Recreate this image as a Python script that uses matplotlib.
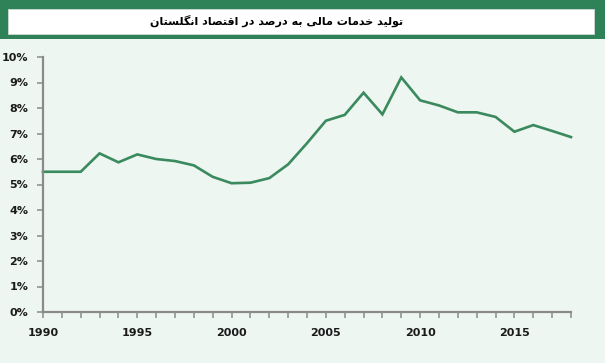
import matplotlib
matplotlib.use("Agg")
import matplotlib.pyplot as plt
import matplotlib.patheffects as pe
from matplotlib.patches import Rectangle
from matplotlib import font_manager, ft2font
from matplotlib.font_manager import FontProperties

# ---- data ----
years = list(range(1990, 2019))
share = [5.5, 5.5, 5.5, 6.22, 5.87, 6.18, 6.0, 5.92, 5.75, 5.3,
         5.05, 5.07, 5.25, 5.79, 6.62, 7.5, 7.73, 8.6, 7.75, 9.2,
         8.3, 8.1, 7.83, 7.83, 7.65, 7.07, 7.33, 7.1, 6.86]
y_ticks = [0, 1, 2, 3, 4, 5, 6, 7, 8, 9, 10]
x_label_years = [1990, 1995, 2000, 2005, 2010, 2015]
title = "تولید خدمات مالی به درصد در اقتصاد انگلستان"

# ---- minimal Arabic/Persian shaping (matplotlib has no complex text layout) ----
FORMS = {  # isolated, final, initial, medial (None => right-joining only)
    '\u0627': (0xFE8D, 0xFE8E, None, None),
    '\u0628': (0xFE8F, 0xFE90, 0xFE91, 0xFE92),
    '\u062A': (0xFE95, 0xFE96, 0xFE97, 0xFE98),
    '\u062E': (0xFEA5, 0xFEA6, 0xFEA7, 0xFEA8),
    '\u062F': (0xFEA9, 0xFEAA, None, None),
    '\u0631': (0xFEAD, 0xFEAE, None, None),
    '\u0633': (0xFEB1, 0xFEB2, 0xFEB3, 0xFEB4),
    '\u0635': (0xFEB9, 0xFEBA, 0xFEBB, 0xFEBC),
    '\u0642': (0xFED5, 0xFED6, 0xFED7, 0xFED8),
    '\u0644': (0xFEDD, 0xFEDE, 0xFEDF, 0xFEE0),
    '\u0645': (0xFEE1, 0xFEE2, 0xFEE3, 0xFEE4),
    '\u0646': (0xFEE5, 0xFEE6, 0xFEE7, 0xFEE8),
    '\u0647': (0xFEE9, 0xFEEA, 0xFEEB, 0xFEEC),
    '\u0648': (0xFEED, 0xFEEE, None, None),
    '\u06CC': (0xFBFC, 0xFBFD, 0xFBFE, 0xFBFF),
    '\u06AF': (0xFB92, 0xFB93, 0xFB94, 0xFB95),
}


def shape(text):
    out = []
    n = len(text)
    for i, ch in enumerate(text):
        if ch not in FORMS:
            out.append(ch)
            continue
        prev = text[i - 1] if i > 0 else None
        nxt = text[i + 1] if i < n - 1 else None
        joins_prev = prev in FORMS and FORMS[prev][2] is not None
        joins_next = FORMS[ch][2] is not None and nxt in FORMS
        f = FORMS[ch]
        if joins_prev and joins_next:
            code = f[3]
        elif joins_prev:
            code = f[1]
        elif joins_next:
            code = f[2]
        else:
            code = f[0]
        out.append(chr(code))
    return ''.join(reversed(out))


shaped_title = shape(title)
title_weight = 'bold'
try:
    p = font_manager.findfont(FontProperties(family='DejaVu Sans', weight='bold'))
    cmap = ft2font.FT2Font(p).get_charmap()
    if not all(ord(c) in cmap for c in shaped_title if c != ' '):
        title_weight = 'normal'
except Exception:
    title_weight = 'normal'

# ---- figure ----
W, H = 605, 363
fig = plt.figure(figsize=(W / 100, H / 100), dpi=100)
bg = '#EDF6F1'
fig.patch.set_facecolor(bg)

green = '#2F8158'
fig.patches.append(Rectangle((0, 1 - 39 / H), 1, 39 / H, transform=fig.transFigure,
                             facecolor=green, edgecolor='none', zorder=0))
fig.patches.append(Rectangle((8 / W, 1 - 34 / H), (594 - 8) / W, 25 / H,
                             transform=fig.transFigure, facecolor='white',
                             edgecolor='#cfd8d3', linewidth=0.6, zorder=1))
t = fig.text(277 / W, 1 - 21 / H, shaped_title, ha='center', va='center',
             fontsize=8, fontweight=title_weight, family=['DejaVu Sans'], color='black')
if title_weight == 'normal':
    t.set_path_effects([pe.withStroke(linewidth=0.6, foreground='black')])

ax = fig.add_axes([43 / W, 51 / H, (571 - 43) / W, (312 - 57) / H])
ax.set_facecolor(bg)
ax.plot(years, share, color='#3A8A5E', linewidth=1.9, solid_joinstyle='miter', clip_on=False)

ax.set_xlim(1990, 2018)
ax.set_ylim(0, 10)
ax.set_yticks(y_ticks)
ax.set_yticklabels([f"{v}%" for v in y_ticks])
ax.set_xticks(years)
ax.set_xticklabels([str(y) if y in x_label_years else '' for y in years])

axis_gray = '#8A8A8A'
for s in ['top', 'right']:
    ax.spines[s].set_visible(False)
for s in ['left', 'bottom']:
    ax.spines[s].set_color(axis_gray)
    ax.spines[s].set_linewidth(1.6)
ax.tick_params(axis='both', direction='out', length=4, width=1.1, color=axis_gray,
               labelsize=8, labelcolor='#1a1a1a')
ax.tick_params(axis='x', pad=7.5)
ax.tick_params(axis='y', pad=6.5)
for lbl in ax.get_xticklabels() + ax.get_yticklabels():
    lbl.set_fontweight('bold')

fig.savefig('out.png', dpi=100, facecolor=fig.get_facecolor())
